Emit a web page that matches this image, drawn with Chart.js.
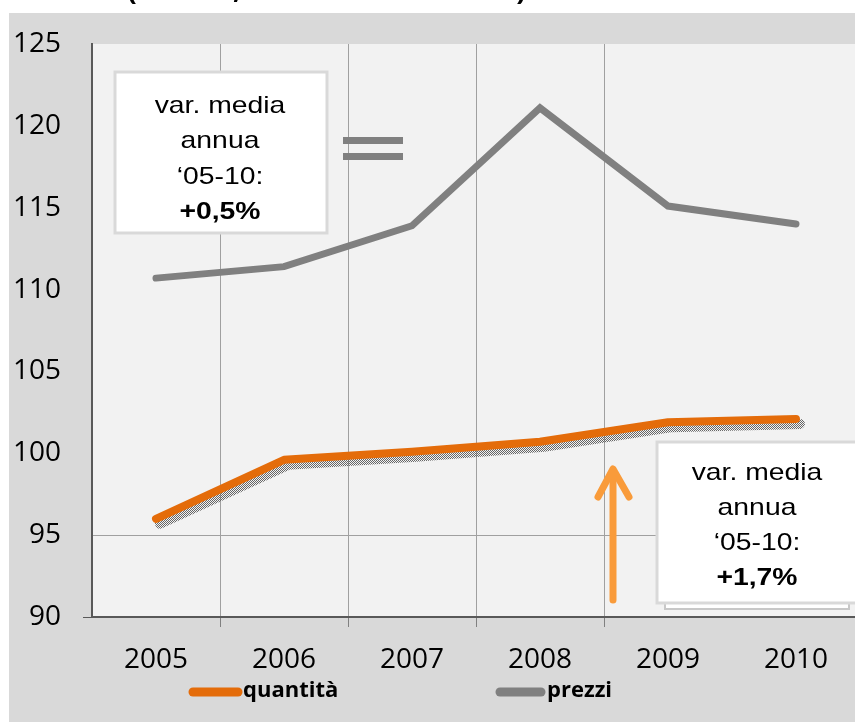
<!DOCTYPE html>
<html>
<head>
<meta charset="utf-8">
<script src="https://cdn.jsdelivr.net/npm/chart.js"></script>
<style>
  html, body { margin: 0; padding: 0; background: #fff; overflow: hidden; width: 855px; height: 722px; }
  canvas { display: block; }
</style>
</head>
<body>
<canvas id="myChart" width="868" height="722"></canvas>
<script>
const years = ["2005", "2006", "2007", "2008", "2009", "2010"];
const quantita = [96.0, 99.6, 100.1, 100.7, 101.9, 102.1];
const prezzi = [110.7, 111.4, 113.9, 121.1, 115.1, 114.0];
const yMin = 90, yMax = 125, yStep = 5;
const notePrezzi = ["var. media", "annua", "\u201805-10:", "+0,5%"];
const noteQuantita = ["var. media", "annua", "\u201805-10:", "+1,7%"];

const ORANGE = "#e46c0a";
const GREY = "#808080";

// the text in the notes looks stretched sideways, like the source image
function wideText(ctx, s, x, y, sx) {
  ctx.save();
  ctx.translate(x, y);
  ctx.scale(sx, 1);
  ctx.fillText(s, 0, 0);
  ctx.restore();
}

function noteBox(ctx, x, y, w, h, lines, cx, baselines) {
  ctx.fillStyle = "#fff";
  ctx.fillRect(x, y, w, h);
  ctx.strokeStyle = "#d9d9d9";
  ctx.lineWidth = 3;
  ctx.strokeRect(x, y, w, h);
  ctx.fillStyle = "#000";
  ctx.textAlign = "center";
  ctx.textBaseline = "alphabetic";
  lines.forEach((s, i) => {
    ctx.font = (i === lines.length - 1 ? "bold " : "") + "24px 'Liberation Sans'";
    wideText(ctx, s, cx, baselines[i], 1.18);
  });
}

const background = {
  id: "background",
  beforeDraw(chart) {
    const ctx = chart.ctx, a = chart.chartArea;
    ctx.save();
    ctx.fillStyle = "#fff";
    ctx.fillRect(0, 0, chart.width, chart.height);
    // bits of the cut-off title above the chart
    ctx.fillStyle = "#000";
    ctx.font = "bold 28px 'Open Sans'";
    ctx.textAlign = "center";
    ctx.fillText("(", 132, 0);
    ctx.fillText(",", 237, -2);
    ctx.fillText(")", 521, 0);
    ctx.fillStyle = "#d9d9d9";
    ctx.fillRect(9, 13, chart.width - 9, chart.height - 13);
    ctx.fillStyle = "#f2f2f2";
    ctx.fillRect(a.left, a.top, a.right - a.left, a.bottom - a.top);
    ctx.restore();
  }
};

const shadow = {
  id: "shadow",
  beforeDatasetsDraw(chart) {
    const pts = chart.getDatasetMeta(0).data;
    const ctx = chart.ctx;
    const pc = document.createElement("canvas");
    pc.width = 2; pc.height = 2;
    const p = pc.getContext("2d");
    p.fillStyle = "#666";
    p.fillRect(0, 0, 1, 1);
    p.fillRect(1, 1, 1, 1);
    ctx.save();
    ctx.strokeStyle = ctx.createPattern(pc, "repeat");
    ctx.lineWidth = 10;
    ctx.lineCap = "round";
    ctx.lineJoin = "round";
    ctx.beginPath();
    pts.forEach((pt, i) => {
      const x = pt.x + 4, y = pt.y + 5;
      if (i) ctx.lineTo(x, y); else ctx.moveTo(x, y);
    });
    ctx.stroke();
    ctx.restore();
  }
};

const notes = {
  id: "notes",
  afterDatasetsDraw(chart) {
    const ctx = chart.ctx;
    ctx.save();
    noteBox(ctx, 115, 72, 212, 161, notePrezzi, 220, [113, 148, 184, 219]);

    // box behind the second note
    ctx.fillStyle = "#fff";
    ctx.fillRect(665, 450, 184, 159);
    ctx.strokeStyle = "#c8c8c8";
    ctx.lineWidth = 2;
    ctx.strokeRect(665, 450, 184, 159);
    noteBox(ctx, 657, 442, 220, 161, noteQuantita, 757, [480, 515, 550, 585]);

    // "=" sign next to prices
    ctx.fillStyle = GREY;
    ctx.fillRect(343, 137, 60, 7);
    ctx.fillRect(343, 153, 60, 7);

    // arrow up for quantities
    ctx.strokeStyle = "#f99b3a";
    ctx.lineWidth = 7;
    ctx.lineCap = "round";
    ctx.lineJoin = "round";
    ctx.beginPath();
    ctx.moveTo(613, 600);
    ctx.lineTo(613, 472);
    ctx.stroke();
    ctx.beginPath();
    ctx.moveTo(598, 497);
    ctx.lineTo(613, 469);
    ctx.lineTo(629, 497);
    ctx.stroke();
    ctx.restore();
  }
};

const legendPos = [[193, 238, 243], [500, 541, 547]];
const bottomLegend = {
  id: "bottomLegend",
  afterDraw(chart) {
    const ctx = chart.ctx;
    ctx.save();
    chart.data.datasets.forEach((ds, i) => {
      const [x1, x2, tx] = legendPos[i];
      ctx.strokeStyle = ds.borderColor;
      ctx.lineWidth = 9;
      ctx.lineCap = "round";
      ctx.beginPath();
      ctx.moveTo(x1, 692);
      ctx.lineTo(x2, 692);
      ctx.stroke();
      ctx.fillStyle = "#000";
      ctx.font = "bold 22px 'Open Sans'";
      ctx.textAlign = "left";
      ctx.textBaseline = "middle";
      ctx.fillText(ds.label, tx, 691);
    });
    ctx.restore();
  }
};

new Chart(document.getElementById("myChart"), {
  type: "line",
  data: {
    labels: years,
    datasets: [
      { label: "quantità", data: quantita, borderColor: ORANGE, borderWidth: 8, pointRadius: 0, borderCapStyle: "round", borderJoinStyle: "round", tension: 0 },
      { label: "prezzi", data: prezzi, borderColor: GREY, borderWidth: 7, pointRadius: 0, borderCapStyle: "round", borderJoinStyle: "miter", tension: 0 }
    ]
  },
  options: {
    responsive: false,
    animation: false,
    layout: { padding: { top: 44, right: 8, left: 0, bottom: 0 } },
    plugins: { legend: { display: false }, title: { display: false }, tooltip: { enabled: false } },
    scales: {
      x: {
        offset: true,
        grid: {
          offset: true,
          color: c => (c.index >= 1 && c.index <= 4) ? "#a0a0a0" : "transparent",
          tickColor: c => (c.index >= 1 && c.index <= 4) ? "#808080" : "transparent",
          tickLength: 10,
          lineWidth: 1
        },
        border: { color: "#595959", width: 2 },
        ticks: { color: "#000", font: { family: "Open Sans", size: 28 }, padding: 16, maxRotation: 0 },
        afterFit(s) { s.height = 105; }
      },
      y: {
        min: yMin,
        max: yMax,
        ticks: { stepSize: yStep, color: "#000", font: { family: "Open Sans", size: 28 }, padding: 22 },
        grid: {
          color: c => (c.tick && c.tick.value === 95) ? "#a0a0a0" : "transparent",
          tickColor: c => (c.tick && c.tick.value === 90) ? "#595959" : "transparent",
          tickLength: 9
        },
        border: { color: "#595959", width: 2 },
        afterFit(s) { s.width = 92; }
      }
    }
  },
  plugins: [background, shadow, notes, bottomLegend]
});
</script>
</body>
</html>
